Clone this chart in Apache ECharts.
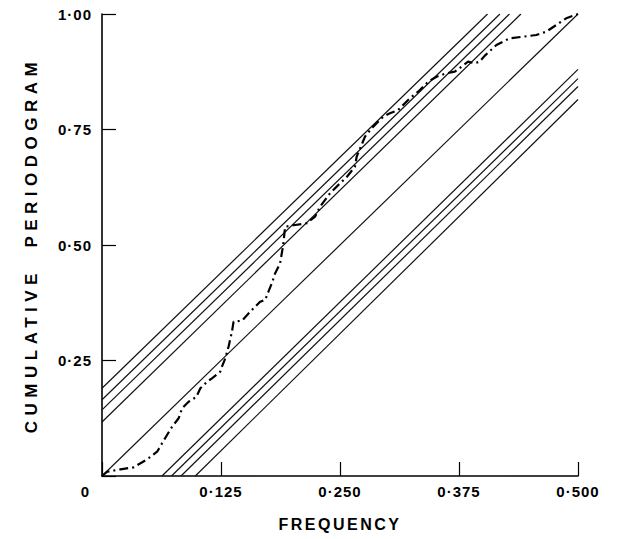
<!DOCTYPE html>
<html>
<head>
<meta charset="utf-8">
<script src="https://cdn.jsdelivr.net/npm/echarts@6/dist/echarts.min.js"></script>
<style>
html,body{margin:0;padding:0;background:#fff;}
#chart{width:619px;height:539px;}
</style>
</head>
<body>
<div id="chart"></div>
<script>
// ---- data ----
const xTickLabels = ['', '0·125', '0·250', '0·375', '0·500'];
const yTickLabels = ['0', '0·25', '0·50', '0·75', '1·00'];
const xTitle = 'FREQUENCY';
const yTitle = 'CUMULATIVE  PERIODOGRAM';

// cumulative periodogram (frequency, cumulative value)
const freq = [0, 0.0055, 0.0194, 0.0333, 0.0474, 0.0579, 0.0631, 0.0683, 0.0736, 0.0805, 0.0841, 0.091, 0.099, 0.1033, 0.1103, 0.1155, 0.1242, 0.126, 0.1295, 0.1329, 0.1365, 0.1382, 0.147, 0.1557, 0.1661, 0.1714, 0.1748, 0.1784, 0.1819, 0.1871, 0.1906, 0.1923, 0.2028, 0.2151, 0.2238, 0.229, 0.2395, 0.25, 0.2573, 0.2657, 0.2675, 0.2762, 0.2832, 0.2954, 0.3024, 0.3111, 0.3181, 0.3234, 0.3321, 0.3426, 0.3514, 0.3618, 0.3705, 0.3776, 0.3845, 0.3915, 0.3967, 0.4019, 0.4143, 0.4282, 0.4421, 0.4562, 0.4667, 0.4772, 0.4876, 0.5];
const cumPer = [0, 0.0093, 0.0145, 0.0188, 0.0361, 0.0526, 0.0708, 0.0887, 0.1067, 0.1249, 0.1465, 0.1608, 0.171, 0.1898, 0.204, 0.2115, 0.2258, 0.2366, 0.2548, 0.2799, 0.3123, 0.334, 0.3361, 0.3556, 0.3773, 0.381, 0.3989, 0.4171, 0.4387, 0.4604, 0.5037, 0.5396, 0.5433, 0.547, 0.5613, 0.5829, 0.6119, 0.6335, 0.6478, 0.6695, 0.6911, 0.7344, 0.7526, 0.7777, 0.7851, 0.7922, 0.8067, 0.8175, 0.8318, 0.8535, 0.8643, 0.8716, 0.8751, 0.8859, 0.8968, 0.8933, 0.8968, 0.9094, 0.9329, 0.9474, 0.9509, 0.9545, 0.9617, 0.9762, 0.9907, 1.0];

// white-noise diagonal
const diagonal = [[0, 0], [0.5, 1]];
// upper confidence lines: start at x=0, end at y=1
const upperStartY = [0.19, 0.165, 0.143, 0.117];
const upperEndX = [0.405, 0.418, 0.428, 0.44];
// lower confidence lines: start at y=0, end at x=0.5
const lowerStartX = [0.063, 0.073, 0.083, 0.098];
const lowerEndY = [0.88, 0.86, 0.843, 0.815];

// ---- chart ----
const FONT = 'Liberation Sans';
const thin = { color: '#111', width: 1.2 };
const series = [];
series.push({
  type: 'line', data: diagonal, symbol: 'none', silent: true,
  lineStyle: thin, z: 2
});
upperStartY.forEach((y0, i) => {
  series.push({
    type: 'line', data: [[0, y0], [upperEndX[i], 1]], symbol: 'none', silent: true,
    lineStyle: thin, z: 2
  });
});
lowerStartX.forEach((x0, i) => {
  series.push({
    type: 'line', data: [[x0, 0], [0.5, lowerEndY[i]]], symbol: 'none', silent: true,
    lineStyle: thin, z: 2
  });
});
series.push({
  type: 'line',
  data: freq.map((f, i) => [f, cumPer[i]]),
  symbol: 'none', silent: true, z: 3,
  lineStyle: { color: '#000', width: 2.2, type: [9, 4, 2, 4] }
});

const chart = echarts.init(document.getElementById('chart'), null, { renderer: 'svg' });
chart.setOption({
  animation: false,
  backgroundColor: '#fff',
  grid: { left: 102, right: 41, top: 14, bottom: 63, containLabel: false },
  xAxis: {
    type: 'value', min: 0, max: 0.5, interval: 0.125,
    axisLine: { show: true, lineStyle: { color: '#000', width: 1.6 } },
    axisTick: { show: true, inside: true, length: 14, lineStyle: { color: '#000', width: 1.2 } },
    splitLine: { show: false },
    axisLabel: {
      margin: 8, color: '#000', fontFamily: FONT, fontSize: 15, fontWeight: 'bold',
      formatter: (v, i) => xTickLabels[i] || ''
    },
    name: xTitle, nameLocation: 'middle', nameGap: 40,
    nameTextStyle: { color: '#000', fontFamily: FONT, fontSize: 16, fontWeight: 'bold' }
  },
  yAxis: {
    type: 'value', min: 0, max: 1, interval: 0.25,
    axisLine: { show: true, lineStyle: { color: '#000', width: 1.6 } },
    axisTick: { show: true, inside: true, length: 14, lineStyle: { color: '#000', width: 1.2 } },
    splitLine: { show: false },
    axisLabel: {
      margin: 10, color: '#000', fontFamily: FONT, fontSize: 15, fontWeight: 'bold',
      formatter: (v, i) => i === 0 ? '{o|' + yTickLabels[0] + '}' : (yTickLabels[i] || ''),
      rich: { o: { padding: [30, 2, 0, 0], fontFamily: FONT, fontSize: 15, fontWeight: 'bold', color: '#000' } }
    },
    name: yTitle, nameLocation: 'middle', nameRotate: 90, nameGap: 62,
    nameTextStyle: { color: '#000', fontFamily: FONT, fontSize: 17, fontWeight: 'bold' }
  },
  series: series
});

// letter spacing for the axis titles and tick labels (SVG text)
document.querySelectorAll('#chart svg text').forEach(t => {
  const s = t.textContent;
  if (s === xTitle) t.style.letterSpacing = '2.5px';
  else if (s === yTitle) t.style.letterSpacing = '5.5px';
  else t.style.letterSpacing = '1px';
});
</script>
</body>
</html>
